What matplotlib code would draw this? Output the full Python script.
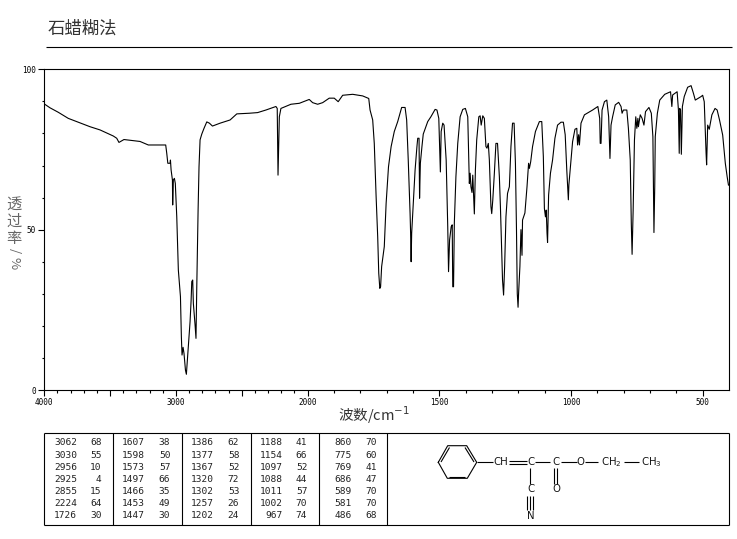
import numpy as np
import matplotlib
matplotlib.use("Agg")
import matplotlib.pyplot as plt

plt.rcParams['font.family'] = ['Noto Sans CJK SC', 'DejaVu Sans']
plt.rcParams['mathtext.fontset'] = 'dejavusans'

# spectrum trace: (wavenumber, transmittance)
wavenumber = [
    4000, 3957, 3894, 3818, 3742, 3653, 3577, 3476, 3450, 3433, 3395, 3273, 3210, 3134, 3078, 3070,
    3062, 3045, 3042, 3037, 3027, 3025, 3020, 3012, 3005, 2994, 2982, 2966, 2959, 2954, 2946, 2939,
    2928, 2921, 2911, 2903, 2893, 2885, 2880, 2873, 2868, 2855, 2848, 2842, 2832, 2825, 2817, 2804,
    2787, 2766, 2746, 2723, 2665, 2589, 2538, 2443, 2380, 2317, 2241, 2231, 2225, 2215, 2203, 2127,
    2063, 1994, 1981, 1962, 1943, 1918, 1899, 1884, 1867, 1829, 1791, 1768, 1763, 1753, 1747, 1740,
    1734, 1730, 1726, 1723, 1719, 1709, 1702, 1693, 1683, 1671, 1658, 1643, 1630, 1624, 1618, 1611,
    1609, 1607, 1605, 1601, 1592, 1585, 1582, 1577, 1575, 1572, 1566, 1561, 1544, 1532, 1516, 1509,
    1502, 1496, 1493, 1487, 1482, 1474, 1468, 1465, 1461, 1455, 1451, 1449, 1446, 1443, 1437, 1430,
    1421, 1411, 1401, 1392, 1386, 1383, 1380, 1376, 1373, 1367, 1363, 1358, 1350, 1345, 1341, 1335,
    1329, 1323, 1319, 1314, 1310, 1304, 1301, 1297, 1291, 1285, 1279, 1272, 1268, 1264, 1260, 1256,
    1252, 1247, 1241, 1234, 1228, 1222, 1216, 1211, 1207, 1204, 1201, 1199, 1194, 1190, 1186, 1184,
    1175, 1167, 1161, 1158, 1153, 1146, 1135, 1120, 1111, 1105, 1101, 1097, 1094, 1091, 1089, 1085,
    1078, 1070, 1061, 1051, 1038, 1029, 1022, 1016, 1013, 1010, 1008, 1000, 994, 985, 978, 975,
    971, 968, 962, 949, 918, 898, 891, 889, 886, 882, 873, 864, 857, 852, 848, 842,
    832, 819, 810, 806, 801, 788, 782, 775, 771, 768, 764, 759, 754, 750, 746, 744,
    737, 730, 723, 717, 704, 695, 689, 685, 682, 680, 672, 663, 644, 622, 617, 614,
    597, 592, 589, 587, 584, 581, 577, 570, 557, 544, 535, 528, 506, 500, 494, 487,
    485, 481, 475, 465, 453, 445, 436, 424, 414, 407, 402,
]
transmittance = [
    89.2, 88.0, 86.6, 84.7, 83.5, 82.1, 81.1, 79.2, 78.5, 77.2, 78.1, 77.5, 76.4, 76.4, 76.4, 73.8,
    70.7, 70.7, 71.7, 68.6, 65.5, 57.7, 65.5, 66.0, 64.4, 54.0, 37.4, 29.1, 16.6, 10.9, 13.3, 11.4,
    6.2, 4.9, 10.9, 16.1, 21.3, 28.0, 33.8, 34.3, 27.0, 20.3, 16.1, 32.2, 56.1, 69.6, 78.0, 79.8,
    81.6, 83.6, 83.2, 82.3, 83.2, 84.2, 86.1, 86.3, 86.5, 87.3, 88.4, 87.8, 67.0, 85.2, 87.8, 89.1,
    89.4, 90.6, 89.6, 89.1, 89.6, 91.0, 91.0, 89.9, 91.9, 92.2, 91.7, 90.9, 87.3, 84.2, 76.9, 60.3,
    47.8, 36.4, 31.7, 32.2, 38.5, 44.7, 58.2, 69.6, 75.9, 80.6, 83.7, 88.1, 88.1, 84.2, 71.7, 55.0,
    48.9, 40.0, 48.9, 55.0, 68.6, 75.9, 78.5, 78.5, 59.8, 70.7, 75.9, 79.8, 83.7, 85.2, 87.5, 87.3,
    84.7, 68.0, 80.6, 83.2, 82.6, 71.7, 50.9, 36.9, 46.8, 50.9, 51.5, 32.2, 32.2, 52.0, 66.5, 76.9,
    85.2, 87.5, 87.8, 85.2, 64.4, 67.6, 63.4, 61.6, 67.0, 54.9, 68.6, 78.0, 85.2, 85.5, 82.6, 85.5,
    84.7, 75.9, 75.4, 76.9, 71.7, 57.2, 55.0, 59.2, 67.6, 76.9, 76.9, 66.5, 57.2, 45.8, 34.3, 29.6,
    38.5, 54.0, 61.3, 63.4, 75.9, 83.2, 83.2, 70.7, 50.0, 30.1, 25.8, 30.1, 38.5, 50.0, 42.0, 53.0,
    55.2, 63.4, 70.7, 69.1, 71.2, 75.9, 80.6, 83.7, 83.7, 72.8, 56.6, 54.0, 56.1, 48.9, 46.0, 60.8,
    67.6, 71.7, 78.5, 82.6, 83.5, 83.5, 79.6, 68.6, 64.0, 59.3, 64.0, 71.7, 77.4, 81.3, 81.6, 76.4,
    79.6, 76.4, 83.2, 85.8, 87.3, 88.4, 84.7, 76.9, 76.9, 87.3, 89.9, 90.4, 85.2, 72.2, 82.6, 85.2,
    88.9, 89.7, 88.4, 86.3, 87.3, 87.3, 81.6, 71.7, 52.0, 42.3, 56.0, 78.0, 85.2, 81.6, 84.7, 82.1,
    85.8, 84.7, 82.6, 86.8, 88.1, 86.3, 79.0, 49.1, 63.4, 79.0, 86.3, 90.4, 92.2, 93.0, 88.4, 92.0,
    93.0, 87.3, 73.8, 87.8, 87.3, 73.5, 88.4, 91.5, 94.4, 94.9, 92.5, 90.4, 91.5, 91.9, 89.9, 73.8,
    70.2, 82.6, 81.3, 85.8, 87.8, 87.3, 84.2, 79.5, 70.7, 66.5, 63.9,
]

title = "石蜡糊法"
xlabel = "波数/cm$^{-1}$"
ylabel_upright = ["透", "过", "率"]
ylabel_sideways = ["/", "%"]

x_major = [4000, 3500, 3000, 2500, 2000, 1500, 1000, 500]
x_labels = ["4000", "", "3000", "", "2000", "1500", "1000", "500"]
y_major = [0, 50, 100]

# peak table, one list per column pair
peak_wn = [
    [3062, 3030, 2956, 2925, 2855, 2224, 1726],
    [1607, 1598, 1573, 1497, 1466, 1453, 1447],
    [1386, 1377, 1367, 1320, 1302, 1257, 1202],
    [1188, 1154, 1097, 1088, 1011, 1002, 967],
    [860, 775, 769, 686, 589, 581, 486],
]
peak_t = [
    [68, 55, 10, 4, 15, 64, 30],
    [38, 50, 57, 66, 35, 49, 30],
    [62, 58, 52, 72, 53, 26, 24],
    [41, 66, 52, 44, 57, 70, 74],
    [70, 60, 41, 47, 70, 70, 68],
]


def forward(w):
    # the spectrum scale doubles below 2000 cm-1
    w = np.asarray(w, dtype=float)
    return np.where(w <= 2000, w, 2000 + (w - 2000) / 2)


def inverse(v):
    v = np.asarray(v, dtype=float)
    return np.where(v <= 2000, v, 2000 + (v - 2000) * 2)


W, H = 737, 539
fig = plt.figure(figsize=(W / 100, H / 100), dpi=100)

# spectrum axes
L, R, T, B = 44.3, 729.0, 69.3, 390.0
ax = fig.add_axes([L / W, 1 - B / H, (R - L) / W, (B - T) / H])
ax.set_xscale('function', functions=(forward, inverse))
ax.plot(wavenumber, transmittance, color='black', linewidth=0.8)
ax.set_xticks(x_major)
ax.set_xticklabels(x_labels, family='DejaVu Sans Mono', fontsize=5.5)
ax.set_xticks(list(range(3900, 2000, -100)) + list(range(1900, 400, -100)), minor=True)
ax.set_yticks(y_major)
ax.set_yticklabels([str(v) for v in y_major], family='DejaVu Sans Mono', fontsize=5.5)
ax.set_yticks(range(10, 100, 10), minor=True)
ax.set_xlim(4000, 400)
ax.set_ylim(0, 100)
ax.tick_params(axis='both', which='major', length=4, width=0.8, pad=2)
ax.tick_params(axis='both', which='minor', length=1.8, width=0.8)
for s in ax.spines.values():
    s.set_linewidth(0.8)

# overlay in pixel coordinates for the heading, table and structure
ov = fig.add_axes([0, 0, 1, 1], facecolor='none')
ov.set_xlim(0, W)
ov.set_ylim(H, 0)
ov.axis('off')


def seg(x0, y0, x1, y1, lw=0.8):
    ov.plot([x0, x1], [y0, y1], color='black', linewidth=lw, solid_capstyle='butt')


def chem(x, y, s):
    ov.text(x, y, s, ha='center', va='center', fontsize=7.3, family='DejaVu Sans', color='#111111')


ov.text(48, 29, title, fontsize=12.5, ha='left', va='center', color='#333333')
seg(46, 47, 732, 47)

# axis titles
ov.text(374, 415, xlabel, fontsize=10.5, ha='center', va='center', color='#333333')
for y, ch in zip([204, 221, 238], ylabel_upright):
    ov.text(14, y, ch, fontsize=11, ha='center', va='center', color='#666666')
for y, ch in zip([251, 263], ylabel_sideways):
    ov.text(14, y, ch, fontsize=9.5, ha='center', va='center', rotation=-90, color='#666666')

# peak table
tx0, tx1, ty0, ty1 = 44.5, 729.5, 433, 525
for x0, y0, x1, y1 in [(tx0, ty0, tx1, ty0), (tx0, ty1, tx1, ty1), (tx0, ty0, tx0, ty1), (tx1, ty0, tx1, ty1)]:
    seg(x0, y0, x1, y1)
for x in [113, 182, 250.7, 318.7, 387]:
    seg(x, ty0, x, ty1)
row_y = [442.7, 455, 467.3, 479.3, 491.7, 504, 516]
wn_right = [77.3, 145, 214.3, 282.7, 351.7]
t_right = [101.7, 170.3, 239.3, 307.3, 376.7]
for c in range(5):
    for r, y in enumerate(row_y):
        ov.text(wn_right[c], y, str(peak_wn[c][r]), ha='right', va='center',
                family='DejaVu Sans Mono', fontsize=6.8, color='#222222')
        ov.text(t_right[c], y, str(peak_t[c][r]), ha='right', va='center',
                family='DejaVu Sans Mono', fontsize=6.8, color='#222222')

# structure drawing
ring_x = [438.3, 447.7, 466.7, 476.7, 467.3, 447.3, 438.3]
ring_y = [462.3, 445.7, 445.7, 462.3, 478.3, 478.3, 462.3]
ov.plot(ring_x, ring_y, color='black', linewidth=0.8)
seg(441, 462, 449.5, 447.5)
seg(465, 447.5, 474, 462)
seg(449, 477, 465.5, 477)
seg(476.7, 462.3, 493.3, 462.3)
seg(509, 461, 526.7, 461)
seg(509, 463.7, 526.7, 463.7)
seg(535, 462.3, 550, 462.3)
seg(560.7, 462.3, 576.7, 462.3)
seg(585, 462.3, 598, 462.3)
seg(624, 462.3, 639, 462.3)
seg(530, 468, 530, 484)
seg(527.3, 496, 527.3, 510)
seg(530, 496, 530, 510)
seg(532.7, 496, 532.7, 510)
seg(554.3, 468, 554.3, 483.5)
seg(556.9, 468, 556.9, 483.5)
chem(500.7, 462, "CH")
chem(530.7, 462, "C")
chem(556, 462, "C")
chem(580.7, 462, "O")
chem(611.7, 462.5, "CH$_2$")
chem(651.7, 462.5, "CH$_3$")
chem(530.7, 489.5, "C")
chem(556, 489.5, "O")
chem(531, 516, "N")

fig.savefig("out.png", dpi=100)
